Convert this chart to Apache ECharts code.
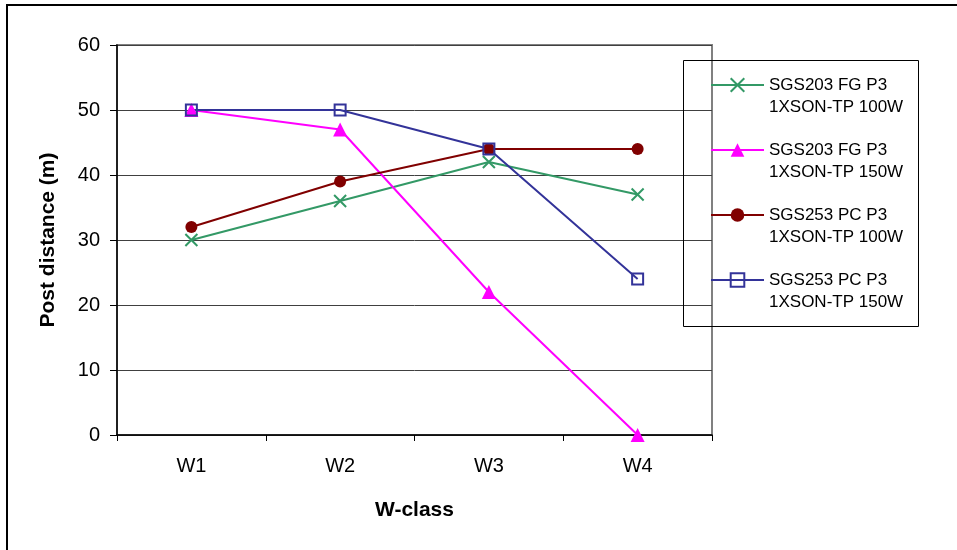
<!DOCTYPE html>
<html>
<head>
<meta charset="utf-8">
<script src="https://cdn.jsdelivr.net/npm/echarts@6/dist/echarts.min.js"></script>
<style>html,body{margin:0;padding:0;background:#fff}#c{width:957px;height:550px}</style>
</head>
<body>
<div id="c"></div>
<script>
var categories = ['W1', 'W2', 'W3', 'W4'];
var seriesNames = [
  'SGS203 FG P3\n1XSON-TP 100W',
  'SGS203 FG P3\n1XSON-TP 150W',
  'SGS253 PC P3\n1XSON-TP 100W',
  'SGS253 PC P3\n1XSON-TP 150W'
];
var fg100 = [30, 36, 42, 37];
var fg150 = [50, 47, 22, 0];
var pc100 = [32, 39, 44, 44];
var pc150 = [50, 50, 44, 24];
var yTicks = [0, 10, 20, 30, 40, 50, 60];

var FONT = '"Liberation Sans", Arial, sans-serif';
var chart = echarts.init(document.getElementById('c'), null, {renderer: 'canvas'});
chart.setOption({
  animation: false,
  backgroundColor: '#fff',
  grid: {left: 117, top: 45, right: 245, bottom: 115, show: true, borderColor: '#808080', borderWidth: 2},
  legend: {
    orient: 'vertical', left: 710, top: 52, padding: 0, itemGap: -1,
    itemWidth: 53, itemHeight: 17,
    formatter: function (n) { return '\n' + n; },
    textStyle: {fontFamily: FONT, fontSize: 17, color: '#000', lineHeight: 22},
    data: seriesNames
  },
  xAxis: {
    type: 'category', data: categories, boundaryGap: true,
    name: 'W-class', nameLocation: 'middle', nameGap: 65,
    nameTextStyle: {fontFamily: FONT, fontSize: 21, fontWeight: 'bold', color: '#000'},
    axisLine: {lineStyle: {color: '#000', width: 1.5}},
    axisTick: {show: true, length: 6, lineStyle: {color: '#000'}},
    axisLabel: {fontFamily: FONT, fontSize: 20, color: '#000', margin: 21},
    splitLine: {show: false}
  },
  yAxis: {
    type: 'value', min: yTicks[0], max: yTicks[yTicks.length - 1], interval: 10,
    name: 'Post distance (m)', nameLocation: 'middle', nameGap: 58,
    nameTextStyle: {fontFamily: FONT, fontSize: 21, fontWeight: 'bold', color: '#000'},
    axisLine: {show: true, lineStyle: {color: '#000', width: 1.5}},
    axisTick: {show: true, length: 7, lineStyle: {color: '#000'}},
    axisLabel: {fontFamily: FONT, fontSize: 20, color: '#000', margin: 17},
    splitLine: {show: true, lineStyle: {color: '#404040', width: 1}}
  },
  graphic: [
    {type: 'rect', shape: {x: 683.5, y: 60.5, width: 235, height: 266}, style: {fill: 'none', stroke: '#000', lineWidth: 1}, z: 100},
    {type: 'rect', shape: {x: 7, y: 5, width: 1000, height: 1000}, style: {fill: 'none', stroke: '#000', lineWidth: 2}, z: 100}
  ],
  series: [
    {
      name: seriesNames[0], type: 'line', data: fg100,
      symbol: 'path://M0,0L10,10M10,0L0,10', symbolSize: 12, showAllSymbol: true,
      lineStyle: {color: '#339966', width: 2},
      itemStyle: {color: '#339966', borderColor: '#339966', borderWidth: 2}
    },
    {
      name: seriesNames[1], type: 'line', data: fg150,
      symbol: 'triangle', symbolSize: 14,
      lineStyle: {color: '#FF00FF', width: 2},
      itemStyle: {color: '#FF00FF'}
    },
    {
      name: seriesNames[2], type: 'line', data: pc100,
      symbol: 'circle', symbolSize: 12,
      lineStyle: {color: '#800000', width: 2},
      itemStyle: {color: '#800000'}
    },
    {
      name: seriesNames[3], type: 'line', data: pc150,
      symbol: 'rect', symbolSize: 11,
      lineStyle: {color: '#333399', width: 2},
      itemStyle: {color: 'rgba(0,0,0,0)', borderColor: '#333399', borderWidth: 2}
    }
  ]
});
</script>
</body>
</html>
